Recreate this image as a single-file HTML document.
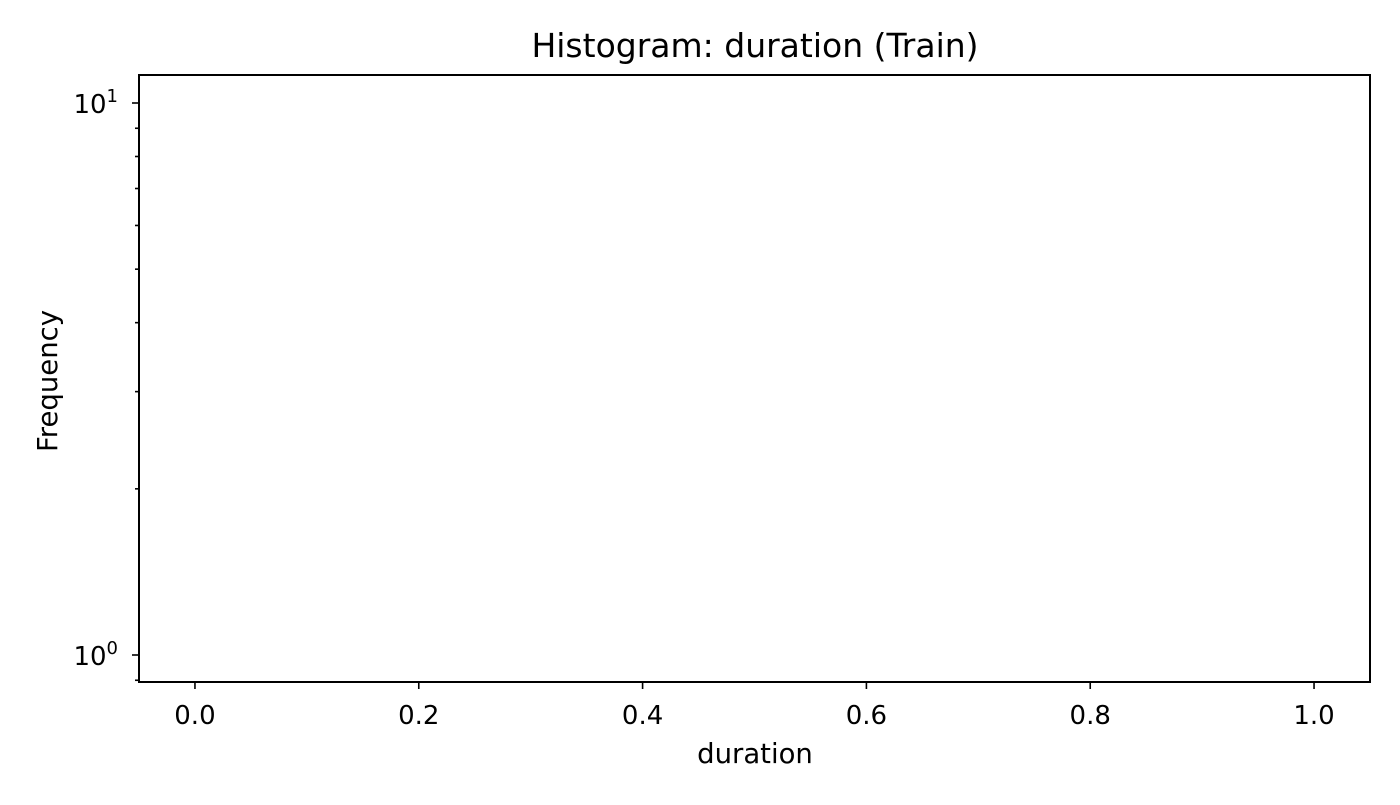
<!DOCTYPE html>
<html><head><meta charset="utf-8"><style>
body{margin:0;background:#fff;}
svg text{font-family:"DejaVu Sans","Liberation Sans",sans-serif;fill:#000;}
</style></head><body>
<svg id="chart" width="1400" height="800">
<rect x="0" y="0" width="1400" height="800" fill="#fff"/>
<text x="755" y="57" font-size="33" text-anchor="middle">Histogram: duration (Train)</text>
<text x="755" y="763" font-size="27.5" text-anchor="middle">duration</text>
<text transform="translate(57,381) rotate(-90)" font-size="27.5" text-anchor="middle">Frequency</text>
<g id="xt"></g><g id="yt"></g>
<rect x="139" y="75" width="1231" height="607" fill="none" stroke="#000" stroke-width="2"/>
</svg>
<script>
const xTicks=[0,0.2,0.4,0.6,0.8,1.0];
const xTickLabels=["0.0","0.2","0.4","0.6","0.8","1.0"];
const yMajor=[1,10];
const yMinor=[0.9,2,3,4,5,6,7,8,9];
const counts=[];
const NS="http://www.w3.org/2000/svg";
function X(v){return 139+(v+0.05)/1.1*1231;}
function Y(v){return 655-Math.log10(v)*552;}
const xt=document.getElementById('xt'),yt=document.getElementById('yt');
function line(g,x1,y1,x2,y2,name){const l=document.createElementNS(NS,'line');l.setAttribute('x1',x1);l.setAttribute('y1',y1);l.setAttribute('x2',x2);l.setAttribute('y2',y2);l.setAttribute('stroke','#000');l.setAttribute('stroke-width','1.6');


g.appendChild(l);}
xTicks.forEach((v,i)=>{const x=X(v);line(xt,x,682,x,689,'x-tick');
const t=document.createElementNS(NS,'text');t.setAttribute('x',x);t.setAttribute('y',724);t.setAttribute('font-size','26');t.setAttribute('text-anchor','middle');t.textContent=xTickLabels[i];


xt.appendChild(t);});
yMajor.forEach(v=>{const y=Y(v);line(yt,132,y,139,y,'y-major-tick');
const t=document.createElementNS(NS,'text');t.setAttribute('x',118);t.setAttribute('y',y+10);t.setAttribute('font-size','26');t.setAttribute('text-anchor','end');
t.innerHTML='10<tspan dy="-11" font-size="18">'+Math.round(Math.log10(v))+'</tspan>';


yt.appendChild(t);});
yMinor.forEach(v=>{const y=Y(v);line(yt,135,y,139,y,'y-minor-tick');});
</script>
</body></html>
